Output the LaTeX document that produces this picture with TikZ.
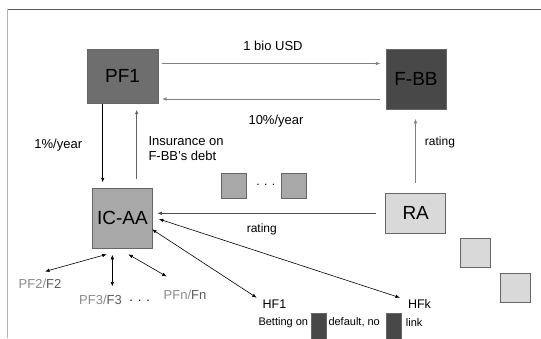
\documentclass[tikz,border=0pt]{standalone}
\usepackage{fontspec}
\setmainfont{Liberation Sans}
\usetikzlibrary{arrows.meta}

\definecolor{pfgray}{HTML}{6E6E6E}
\definecolor{fbbgray}{HTML}{484848}
\definecolor{icgray}{HTML}{A8A8A8}
\definecolor{ragray}{HTML}{D9D9D9}
\definecolor{linegray}{HTML}{808080}
\definecolor{pftext}{HTML}{8A8A8A}
\definecolor{ftext}{HTML}{5A5A5A}

\begin{document}
\begin{tikzpicture}[x=1pt,y=-1pt,
    box/.style={draw=black!60, line width=0.6pt, inner sep=0pt, font=\fontsize{19}{22}\selectfont},
    lab/.style={inner sep=0pt, font=\fontsize{13}{15.7}\selectfont},
    arr/.style={-{Latex[length=4.5pt,width=3.5pt]}, line width=0.7pt},
    dbl/.style={{Latex[length=4.5pt,width=3.5pt]}-{Latex[length=4.5pt,width=3.5pt]}, line width=0.6pt}]
    \useasboundingbox (0,0) rectangle (541,338);

    % frame
    \draw[black!65, line width=0.8pt] (8,9.3) -- (541,9.3);
    \draw[black!30, line width=1.6pt] (7.3,9.3) -- (7.3,338);

    % main boxes
    \node[box, fill=pfgray, minimum width=71pt, minimum height=54pt] (PF1) at (122.5,76.3) {PF1};
    \node[box, fill=fbbgray, minimum width=60pt, minimum height=60pt] (FBB) at (416,79.2) {F-BB};
    \node[box, fill=icgray, minimum width=60pt, minimum height=60pt] (ICAA) at (122.5,218.3) {IC-AA};
    \node[box, fill=ragray, minimum width=60pt, minimum height=40pt] (RA) at (415.7,213.3) {RA};

    % small boxes
    \node[box, fill=icgray, minimum size=25pt] (S1) at (234.2,185.8) {};
    \node[box, fill=icgray, minimum size=25pt] (S2) at (294.2,185.8) {};
    \node[lab, font=\fontsize{12}{14}\selectfont] (Sdots) at (265.8,185) {. . .};
    \node[box, fill=ragray, minimum width=30pt, minimum height=29pt] (R1) at (475.3,253.2) {};
    \node[box, fill=ragray, minimum width=30pt, minimum height=29.4pt] (R2) at (515.3,288) {};

    % labels
    \node[lab] (usd) at (273,46.2) {1 bio USD};
    \node[lab] (ten) at (276,121) {10\%/year};
    \node[lab] (one) at (58.3,145.5) {1\%/year};
    \node[lab, align=left, anchor=north west] (ins) at (148.3,136) {Insurance on\\F-BB's debt};
    \node[lab, font=\fontsize{12}{14}\selectfont] (rt1) at (440,142.3) {rating};
    \node[lab, font=\fontsize{12}{14}\selectfont] (rt2) at (261.8,229.5) {rating};

    \node[lab, text=pftext] (PF2) at (40,283.5) {PF2/\textcolor{ftext}{F2}};
    \node[lab, text=pftext] (PF3) at (100.5,299.5) {PF3/\textcolor{ftext}{F3}};
    \node[lab] (pfdots) at (139.7,300.5) {. . .};
    \node[lab, text=pftext] (PFn) at (185,294.5) {PFn/\textcolor{ftext}{Fn}};
    \node[lab, font=\fontsize{12.5}{15}\selectfont] (HF1) at (274.5,304) {HF1};
    \node[lab, font=\fontsize{12.5}{15}\selectfont] (HFk) at (419.5,304) {HFk};

    \node[lab, font=\fontsize{11}{13}\selectfont, anchor=west] (bet) at (258.3,322.5) {Betting on};
    \node[box, fill=fbbgray, minimum width=15.3pt, minimum height=28pt, anchor=north west] (B1) at (310.7,312.7) {};
    \node[lab, font=\fontsize{11}{13}\selectfont, anchor=west] (dflt) at (328.3,322.5) {default, no};
    \node[box, fill=fbbgray, minimum width=15.3pt, minimum height=28pt, anchor=north west] (B2) at (385.7,312.7) {};
    \node[lab, font=\fontsize{11}{13}\selectfont, anchor=west] (lnk) at (405.7,322.5) {link};

    % connectors
    \draw[arr, color=linegray, shorten <=3.7pt, shorten >=5.3pt] (PF1.east |- 0,63.5) -- (FBB.west |- 0,63.5);
    \draw[arr, color=linegray, shorten <=5.3pt, shorten >=3.7pt] (FBB.west |- 0,99) -- (PF1.east |- 0,99);
    \draw[arr, shorten >=5.6pt] (PF1.south -| 102.7,0) -- (ICAA.north -| 102.7,0);
    \draw[arr, color=black!60, shorten <=9.3pt, shorten >=6pt] (ICAA.north -| 136.7,0) -- (PF1.south -| 136.7,0);
    \draw[arr, color=linegray, shorten <=10pt, shorten >=9.3pt] (RA.north -| 415.5,0) -- (FBB.south -| 415.5,0);
    \draw[arr, color=black!70, shorten <=9.7pt, shorten >=4.5pt] (RA.west |- 0,213.3) -- (ICAA.east |- 0,213.3);

    \draw[dbl] ([xshift=6pt,yshift=-0.7pt]ICAA.east) -- ([xshift=-19.5pt,yshift=6.3pt]HFk.center);
    \draw[dbl] ([xshift=-0.8pt,yshift=-11pt]ICAA.east) -- ([xshift=-17.8pt,yshift=6.3pt]HF1.center);
    \draw[dbl] ([xshift=-15.8pt,yshift=-5.7pt]ICAA.south) -- ([xshift=5pt,yshift=12pt]PF2.center);
    \draw[dbl] ([xshift=-10.2pt,yshift=-6.2pt]ICAA.south) -- ([xshift=11.8pt,yshift=13pt]PF3.center);
    \draw[dbl] ([xshift=5.8pt,yshift=-5.7pt]ICAA.south) -- ([xshift=-18.3pt,yshift=18pt]PFn.center);

\end{tikzpicture}
\end{document}
